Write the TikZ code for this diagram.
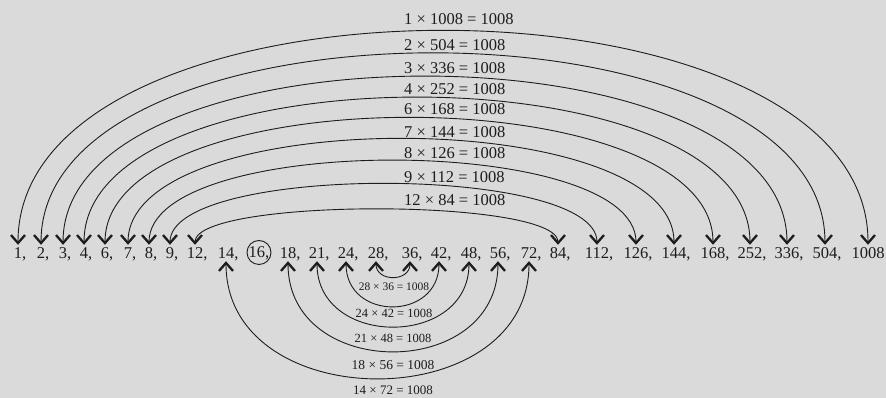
\documentclass[tikz,border=0pt]{standalone}
\usepackage{fontspec}
\setmainfont{Liberation Serif}
\usepackage{xcolor}
\usepackage{tikz}
\usetikzlibrary{arrows.meta,positioning}

\definecolor{bggray}{RGB}{218,218,218}
\definecolor{ink}{RGB}{30,28,28}

\begin{document}
\begin{tikzpicture}[x=1pt, y=1pt,
    num/.style={anchor=base, inner sep=0pt, text height=14pt, text depth=2pt, text=ink, font=\fontsize{16.5}{18}\selectfont},
    toplbl/.style={anchor=base west, inner sep=0pt, text=ink, font=\fontsize{16.5}{18}\selectfont},
    botlbl/.style={anchor=base, inner sep=0pt, text=ink},
    prodarc/.style={draw=ink, line width=0.9pt, >={Straight Barb[length=8pt,width=14pt,line width=2.3pt]}, <->}]
    \fill[bggray] (0,0) rectangle (886,398);
    \useasboundingbox (0,0) rectangle (886,398);

    % the divisors of 1008
    \node[num] (n1) at (18,139) {1\rlap{,}};
    \node[num] (n2) at (41,139) {2\rlap{,}};
    \node[num] (n3) at (63,139) {3\rlap{,}};
    \node[num] (n4) at (84,139) {4\rlap{,}};
    \node[num] (n6) at (105,139) {6\rlap{,}};
    \node[num] (n7) at (128,139) {7\rlap{,}};
    \node[num] (n8) at (149,139) {8\rlap{,}};
    \node[num] (n9) at (170,139) {9\rlap{,}};
    \node[num] (n12) at (195,139) {12\rlap{,}};
    \node[num] (n14) at (226,139) {14\rlap{,}};
    \node[draw=ink, line width=0.9pt, circle, minimum size=24pt, inner sep=0pt, text height=11pt, text depth=0pt, text=ink, font=\fontsize{16.5}{18}\selectfont] (n16) at (259,145.5) {16,};
    \node[num] (n18) at (288,139) {18\rlap{,}};
    \node[num] (n21) at (317,139) {21\rlap{,}};
    \node[num] (n24) at (346,139) {24\rlap{,}};
    \node[num] (n28) at (376,139) {28\rlap{,}};
    \node[num] (n36) at (410,139) {36\rlap{,}};
    \node[num] (n42) at (439,139) {42\rlap{,}};
    \node[num] (n48) at (469,139) {48\rlap{,}};
    \node[num] (n56) at (498,139) {56\rlap{,}};
    \node[num] (n72) at (529,139) {72\rlap{,}};
    \node[num] (n84) at (558,139) {84\rlap{,}};
    \node[num] (n112) at (597,139) {112\rlap{,}};
    \node[num] (n126) at (636,139) {126\rlap{,}};
    \node[num] (n144) at (674,139) {144\rlap{,}};
    \node[num] (n168) at (713,139) {168\rlap{,}};
    \node[num] (n252) at (750,139) {252\rlap{,}};
    \node[num] (n336) at (787,139) {336\rlap{,}};
    \node[num] (n504) at (825,139) {504\rlap{,}};
    \node[num] (n1008) at (868,139) {1008};

    % products above the row
    \node[toplbl] (p1) at (404,373) {1 × 1008 = 1008};
    \node[toplbl] (p2) at (404,347) {2 × 504 = 1008};
    \node[toplbl] (p3) at (404,324) {3 × 336 = 1008};
    \node[toplbl] (p4) at (404,303) {4 × 252 = 1008};
    \node[toplbl] (p6) at (404,283) {6 × 168 = 1008};
    \node[toplbl] (p7) at (404,260) {7 × 144 = 1008};
    \node[toplbl] (p8) at (404,239) {8 × 126 = 1008};
    \node[toplbl] (p9) at (404,215) {9 × 112 = 1008};
    \node[toplbl] (p12) at (404,192) {12 × 84 = 1008};

    % products below the row
    \node[botlbl, font=\fontsize{11.5}{13}\selectfont] (p28) at (394,107) {28 × 36 = 1008};
    \node[botlbl, font=\fontsize{12.5}{14}\selectfont] (p24) at (394,80) {24 × 42 = 1008};
    \node[botlbl, font=\fontsize{12.5}{14}\selectfont] (p21) at (393,55) {21 × 48 = 1008};
    \node[botlbl, font=\fontsize{13.5}{15}\selectfont] (p18) at (393,28) {18 × 56 = 1008};
    \node[botlbl, font=\fontsize{13}{15}\selectfont] (p14) at (393,3) {14 × 72 = 1008};

    \draw[prodarc] (n1.north) .. controls +(0,285) and +(0,285) .. (n1008.north);
    \draw[prodarc] (n2.north) .. controls +(0,255) and +(0,255) .. (n504.north);
    \draw[prodarc] (n3.north) .. controls +(0,224) and +(0,224) .. (n336.north);
    \draw[prodarc] (n4.north) .. controls +(0,196) and +(0,196) .. (n252.north);
    \draw[prodarc] (n6.north) .. controls +(0,169) and +(0,169) .. (n168.north);
    \draw[prodarc] (n7.north) .. controls +(0,141) and +(0,141) .. (n144.north);
    \draw[prodarc] (n8.north) .. controls +(0,112) and +(0,112) .. (n126.north);
    \draw[prodarc] (n9.north) .. controls +(0,81) and +(0,81) .. (n112.north);
    \draw[prodarc] (n12.north) .. controls +(0,47) and +(0,47) .. (n84.north);

    \draw[prodarc] (n28.south) .. controls +(0,-21) and +(0,-21) .. (n36.south);
    \draw[prodarc] (n24.south) .. controls +(0,-60) and +(0,-60) .. (n42.south);
    \draw[prodarc] (n21.south) .. controls +(0,-87) and +(0,-87) .. (n48.south);
    \draw[prodarc] (n18.south) .. controls +(0,-120) and +(0,-120) .. (n56.south);
    \draw[prodarc] (n14.south) .. controls +(0,-156) and +(0,-156) .. (n72.south);
\end{tikzpicture}
\end{document}
